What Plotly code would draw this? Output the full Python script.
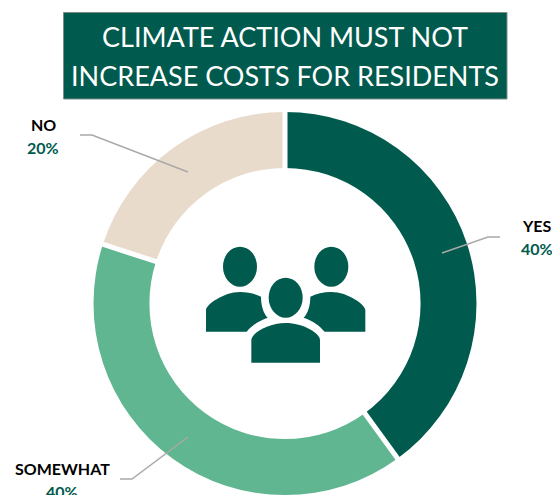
import math
import plotly.graph_objects as go

# Survey responses
categories = ["YES", "SOMEWHAT", "NO"]
shares = [40, 40, 20]
slice_colors = ["#005A4E", "#60B691", "#E8DBCB"]
title_lines = ["CLIMATE ACTION MUST NOT", "INCREASE COSTS FOR RESIDENTS"]

W, H = 552, 495
DARK = "#005A4E"
FONT = "Lato"
CX, CY, R = 285, 303.5, 191.5
HOLE = 0.708

fig = go.Figure(
    go.Pie(
        labels=categories,
        values=shares,
        hole=HOLE,
        sort=False,
        direction="clockwise",
        rotation=0,
        textinfo="none",
        hoverinfo="label+percent",
        marker=dict(colors=slice_colors, line=dict(color="white", width=0)),
        domain=dict(
            x=[(CX - R) / W, (CX + R) / W],
            y=[max(0, 1 - (CY + R) / H), 1 - (CY - R) / H],
        ),
        showlegend=False,
    )
)

shapes = []


def add_shape(**kw):
    # All overlay shapes use a hidden pixel-sized axis pair
    shapes.append(dict(xref="x", yref="y", **kw))


# White gaps between slices, placed at the cumulative share boundaries
running = 0
for value in shares:
    a = 2 * math.pi * running / sum(shares)
    running += value
    add_shape(type="line",
              x0=CX + (R * HOLE - 2) * math.sin(a), y0=CY - (R * HOLE - 2) * math.cos(a),
              x1=CX + (R + 2) * math.sin(a), y1=CY - (R + 2) * math.cos(a),
              line=dict(color="white", width=5), layer="above")

# Title banner
add_shape(type="rect", x0=63.5, y0=12.5, x1=507, y1=99,
          fillcolor=DARK, line=dict(color="#7F8C88", width=1), layer="above")

# Leader lines from each slice to its label
leaders = {
    "YES": [(442, 253), (488, 237), (500, 237)],
    "SOMEWHAT": [(188, 437), (132, 479), (120, 479)],
    "NO": [(188, 172), (92, 135), (80, 135)],
}
for pts in leaders.values():
    d = "M" + " L".join(f"{x},{y}" for x, y in pts)
    add_shape(type="path", path=d, line=dict(color="#A9A9A9", width=1.5), layer="above")


# People icon, authored on a 3x grid anchored at (190, 230)
def grid(x, y):
    return f"{190 + x / 3:.2f},{230 + y / 3:.2f}"


def body(cmds):
    out = []
    for c, pts in cmds:
        out.append(c + " ".join(grid(*p) for p in pts))
    return " ".join(out) + " Z"


left_body = [
    ("M", [(48, 305)]), ("L", [(48, 240)]),
    ("C", [(48, 225), (100, 186), (150, 186)]),
    ("C", [(175, 186), (195, 191), (213, 200)]),
    ("C", [(213, 225), (220, 250), (233, 263)]),
    ("C", [(205, 272), (185, 288), (170, 305)]),
]
right_body = [(c, [(574 - x, y) for x, y in pts]) for c, pts in left_body]
centre_body = [
    ("M", [(184, 398)]), ("L", [(184, 330)]),
    ("C", [(184, 310), (235, 279), (287, 279)]),
    ("C", [(339, 279), (390, 310), (390, 330)]),
    ("L", [(390, 398)]),
]
for b in (left_body, right_body, centre_body):
    add_shape(type="path", path=body(b), fillcolor=DARK, line=dict(width=0), layer="above")

for hx, hy in [(150, 110), (424, 110), (287, 203)]:
    px, py = 190 + hx / 3, 230 + hy / 3
    add_shape(type="circle", x0=px - 17, x1=px + 17, y0=py - 20, y1=py + 20,
              fillcolor=DARK, line=dict(width=0), layer="above")

annotations = []
for line, ty in zip(title_lines, (36, 75)):
    annotations.append(dict(x=285, y=ty, xref="x", yref="y", showarrow=False,
                            text=line,
                            font=dict(family=FONT, size=27, color="white")))

# Category name above its share
label_pos = {"YES": (537, 225), "SOMEWHAT": (62, 468), "NO": (43, 124)}
for name, value in zip(categories, shares):
    lx, ly = label_pos[name]
    annotations.append(dict(x=lx, y=ly, xref="x", yref="y", showarrow=False,
                            text=f"<b>{name}</b>",
                            font=dict(family=FONT, size=16, color="black")))
    annotations.append(dict(x=lx, y=ly + 23.5, xref="x", yref="y", showarrow=False,
                            text=f"<b>{value}%</b>",
                            font=dict(family=FONT, size=16, color=DARK)))

fig.update_layout(
    width=W, height=H,
    margin=dict(l=0, r=0, t=0, b=0),
    paper_bgcolor="white", plot_bgcolor="rgba(0,0,0,0)",
    xaxis=dict(range=[0, W], visible=False, fixedrange=True),
    yaxis=dict(range=[H, 0], visible=False, fixedrange=True),
    shapes=shapes,
    annotations=annotations,
)

fig.write_html("out.html", config=dict(displayModeBar=False))
